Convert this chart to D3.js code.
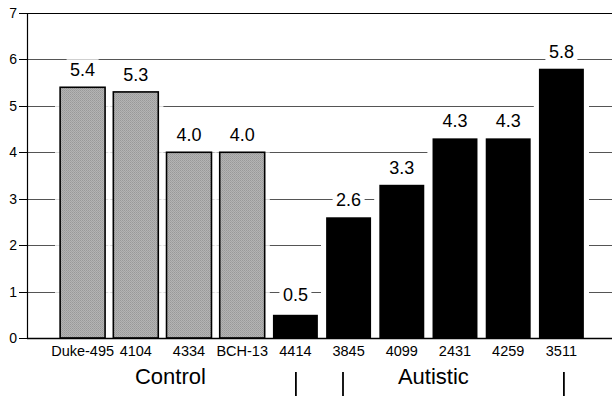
<!DOCTYPE html>
<html><head><meta charset="utf-8">
<script src="https://cdn.jsdelivr.net/npm/d3@7"></script>
<style>html,body{margin:0;padding:0;background:#fff;}svg{display:block;font-family:"Liberation Sans",Arial,Helvetica,sans-serif;}</style>
</head><body>
<svg id="chart" width="612" height="396"></svg>
<script>
const categories = ["Duke-495","4104","4334","BCH-13","4414","3845","4099","2431","4259","3511"];
const values = [5.4,5.3,4.0,4.0,0.5,2.6,3.3,4.3,4.3,5.8];
const groups = ["Control","Control","Control","Control","Autistic","Autistic","Autistic","Autistic","Autistic","Autistic"];
const groupNames = ["Control","Autistic"];
const yTicks = [0,1,2,3,4,5,6,7];

const svg = d3.select("#chart");
const W = 612, H = 396;
const x0 = 27, yTop = 13, yBot = 338;

const y = d3.scaleLinear().domain([0,7]).range([yBot,yTop]);
const x = d3.scaleBand().domain(categories).range([56,588]).paddingInner(0.155).paddingOuter(0.0775);
const bw = x.bandwidth();

// pattern for control bars
const defs = svg.append("defs");
const pat = defs.append("pattern").attr("id","stip").attr("width",2).attr("height",2).attr("patternUnits","userSpaceOnUse");
pat.append("rect").attr("width",2).attr("height",2).attr("fill","#b4b4b4");
pat.append("rect").attr("width",1).attr("height",1).attr("fill","#999");
pat.append("rect").attr("x",1).attr("y",1).attr("width",1).attr("height",1).attr("fill","#a2a2a2");

// gridlines
svg.append("g").selectAll("line").data(yTicks.filter(d=>d>0)).join("line")
  .attr("x1",x0).attr("x2",W)
  .attr("y1",d=>Math.round(y(d))+0.5).attr("y2",d=>Math.round(y(d))+0.5)
  .attr("stroke",d=>d===7?"#000":"#555").attr("stroke-width",1);

// soften gridlines between bars
svg.append("g").selectAll("rect").data(categories).join("rect")
  .attr("x",d=>x(d)-x.step()*x.paddingInner()/2-1)
  .attr("width",x.step()+2)
  .attr("y",(d,i)=>y(values[i]))
  .attr("height",(d,i)=>yBot-y(values[i]))
  .attr("fill","#fff").attr("opacity",(d,i)=>groups[i]==="Control"?0.8:1);

// bars
svg.append("g").selectAll("rect").data(categories).join("rect")
  .attr("x",d=>x(d)).attr("width",bw)
  .attr("y",(d,i)=>y(values[i]))
  .attr("height",(d,i)=>yBot-y(values[i]))
  .attr("fill",(d,i)=>groups[i]==="Control"?"url(#stip)":"#000")
  .attr("stroke","#000").attr("stroke-width",(d,i)=>groups[i]==="Control"?1.6:0);

// axes lines
svg.append("line").attr("x1",x0+0.5).attr("x2",x0+0.5).attr("y1",yTop).attr("y2",yBot).attr("stroke","#000").attr("stroke-width",1.2);
svg.append("line").attr("x1",x0).attr("x2",W).attr("y1",yBot+0.5).attr("y2",yBot+0.5).attr("stroke","#000").attr("stroke-width",1.6);

// y ticks
const yt = svg.append("g");
yt.selectAll("line").data(yTicks).join("line")
  .attr("x1",19).attr("x2",x0).attr("y1",d=>Math.round(y(d))+0.5).attr("y2",d=>Math.round(y(d))+0.5)
  .attr("stroke","#000").attr("stroke-width",1);
yt.selectAll("text").data(yTicks).join("text")
  .attr("x",17).attr("y",d=>y(d)+5).attr("text-anchor","end")
  .attr("font-size",14).attr("fill","#000").text(d=>d);

// value labels with white background
const lab = svg.append("g").selectAll("g").data(categories).join("g")
  .attr("transform",(d,i)=>`translate(${x(d)+bw/2},${Math.min(y(values[i])-11, y(1)+9)})`);
lab.append("rect").attr("x",-16).attr("y",-17).attr("width",32).attr("height",20).attr("fill","#fff");
lab.append("text").attr("text-anchor","middle").attr("font-size",18).attr("fill","#000")
  .text((d,i)=>values[i].toFixed(1));

// x labels
svg.append("g").selectAll("text").data(categories).join("text")
  .attr("x",d=>x(d)+bw/2).attr("y",356).attr("text-anchor","middle")
  .attr("font-size",14.5).attr("fill","#000").text(d=>d);

// group labels
groupNames.forEach((g,gi)=>{
  const cats = categories.filter((c,i)=>groups[i]===g);
  const cx = (x(cats[0]) + x(cats[cats.length-1]) + bw)/2 + (gi===0?8:5);
  svg.append("text").attr("x",cx).attr("y",384).attr("text-anchor","middle")
    .attr("font-size",22).attr("fill","#000").text(g);
});

// bracket marks
const marks = [x("4414")+bw/2+0.5, x("3845")-x.step()*x.paddingInner()/2+21, x("3511")+bw/2+2.5];
svg.append("g").selectAll("line").data(marks).join("line")
  .attr("x1",d=>d).attr("x2",d=>d).attr("y1",372).attr("y2",396)
  .attr("stroke","#000").attr("stroke-width",1.8);
</script>
</body></html>
